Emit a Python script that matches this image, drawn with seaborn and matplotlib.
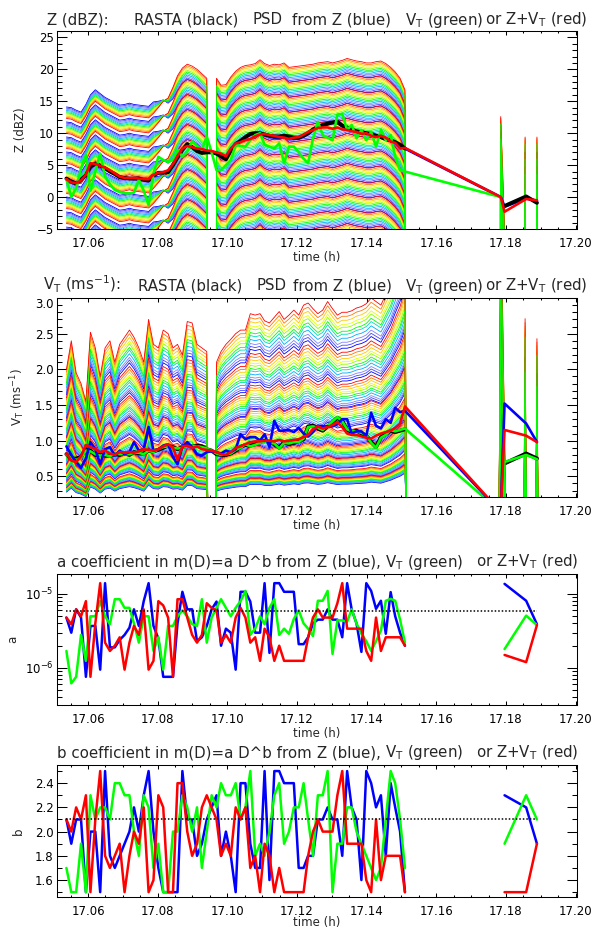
import numpy as np
import matplotlib
matplotlib.use("Agg")
import matplotlib.pyplot as plt
import seaborn as sns
from matplotlib.ticker import (MultipleLocator, FormatStrFormatter, LogLocator,
                               LogFormatterSciNotation, NullFormatter)

sns.set_style("ticks")
plt.rcParams["font.family"] = ["DejaVu Sans"]
plt.rcParams["mathtext.fontset"] = "dejavusans"

nan = np.nan
FILL_Z = -999.0   # missing retrieval (dBZ)
FILL_V = -9.0     # missing retrieval (m/s)

# ---------------------------------------------------------------- time axis (h)
time_main = [17.0538, 17.0552, 17.0566, 17.0580, 17.0594, 17.0607, 17.0621, 17.0635, 17.0649, 17.0663,
             17.0677, 17.0691, 17.0705, 17.0719, 17.0732, 17.0746, 17.0760, 17.0774, 17.0788, 17.0802,
             17.0816, 17.0830, 17.0844, 17.0857, 17.0871, 17.0885, 17.0899, 17.0913, 17.0927, 17.0941,
             17.0955, 17.0969, 17.0982, 17.0996, 17.1010, 17.1024, 17.1038, 17.1052, 17.1066, 17.1080,
             17.1094, 17.1107, 17.1121, 17.1135, 17.1149, 17.1163, 17.1177, 17.1191, 17.1205, 17.1219,
             17.1232, 17.1246, 17.1260, 17.1274, 17.1288, 17.1302, 17.1316, 17.1330, 17.1344, 17.1357,
             17.1371, 17.1385, 17.1399, 17.1413, 17.1427, 17.1441, 17.1455, 17.1469, 17.1482, 17.1496,
             17.1510]
time_tail = [17.1785, 17.1796, 17.1858, 17.1889]
time_coef_tail = [17.1796, 17.1858, 17.1889]

# ---------------------------------------------------------------- reflectivity (dBZ)
z_rasta = [2.9, 2.4, 2.1, 2.7, 3.4, 4.8, 5.2, 4.9, 4.5, 4.0,
           3.6, 3.1, 3.0, 2.9, 2.9, 2.9, 2.7, 2.6, 3.4, 3.8,
           3.8, 3.9, 5.0, 6.2, 7.4, 8.3, 7.8, 7.2, 6.9, 7.0,
           7.0, 6.8, 6.4, 5.9, 7.3, 8.3, 8.8, 9.4, 9.9, 10.0,
           10.0, 9.8, 9.6, 9.5, 9.5, 9.6, 9.5, 9.3, 9.3, 9.6,
           10.0, 10.6, 11.0, 11.3, 11.5, 11.7, 11.8, 11.2, 10.9, 10.6,
           10.3, 10.2, 10.0, 9.9, 9.6, 9.4, 9.1, 8.9, 8.6, 8.2, 7.6]
z_from_z = [2.9, 2.5, 2.2, 2.8, 3.4, 4.9, 5.3, 5.0, 4.5, 4.0,
            3.6, 3.2, 3.0, 2.9, 2.9, 2.8, 2.7, 2.6, 3.3, 3.8,
            3.8, 4.0, 5.1, 6.3, 7.5, 8.2, 7.9, 7.3, 7.0, 7.0,
            7.0, 6.9, 6.5, 6.0, 7.4, 8.3, 8.8, 9.3, 9.8, 10.0,
            9.9, 9.7, 9.5, 9.3, 9.3, 9.4, 9.3, 9.1, 9.2, 9.5,
            9.9, 10.5, 10.9, 11.2, 11.4, 11.6, 11.6, 11.1, 10.8, 10.5,
            10.2, 10.1, 9.9, 9.8, 9.5, 9.3, 9.0, 8.8, 8.5, 8.1, 7.6]
z_from_vt = [2.8, 0.0, 1.4, 4.5, 6.6, 1.0, 4.0, 6.8, 3.2, 2.0,
             1.1, 0.8, 0.6, 0.6, 0.7, 2.7, 1.0, -1.25, 3.7, 6.3,
             5.8, 5.5, 5.8, 7.4, 6.3, 7.1, 8.7, 8.0, 7.4, 9.5,
             7.0, 4.2, 4.2, 5.0, 5.8, 8.2, 8.0, 7.9, 8.9, 9.7,
             10.0, 8.2, 7.9, 7.6, 8.4, 5.3, 7.9, 7.9, 7.0, 6.0,
             5.3, 9.2, 11.8, 9.7, 9.3, 8.9, 12.9, 13.0, 10.5, 11.3,
             9.2, 10.5, 8.9, 10.2, 7.9, 10.5, 8.9, 9.7, 6.3, 4.2, 4.0]
z_from_both = [2.8, 2.3, 2.2, 2.6, 3.5, 5.3, 5.2, 4.9, 4.6, 4.2,
               3.7, 3.2, 3.0, 3.0, 3.0, 2.9, 2.8, 2.8, 3.5, 3.8,
               3.9, 4.2, 5.2, 6.4, 7.6, 8.0, 7.8, 7.6, 7.5, 7.3,
               7.2, 7.0, 6.8, 6.4, 7.6, 8.4, 8.6, 8.9, 9.1, 9.5,
               9.8, 9.9, 9.7, 9.6, 9.4, 9.3, 9.1, 9.3, 9.4, 9.8,
               10.2, 10.5, 10.8, 10.9, 10.9, 10.7, 10.9, 10.6, 10.5, 10.3,
               10.2, 9.9, 10.0, 9.6, 9.4, 9.6, 9.3, 8.7, 8.5, 7.6, 7.7]
z_rasta_tail = [nan, -1.4, 0.1, -0.9]
z_from_z_tail = [0.0, -1.5, -0.2, -0.6]
z_from_vt_tail = [0.0, FILL_Z, nan, nan]
z_from_both_tail = [0.0, -2.3, -0.3, -0.5]

# ---------------------------------------------------------------- terminal velocity (m/s)
vt_rasta = [0.81, 0.74, 0.75, 0.77, 0.88, 0.86, 0.80, 0.80, 0.79, 0.79,
            0.81, 0.80, 0.82, 0.80, 0.84, 0.82, 0.82, 0.86, 0.85, 0.87,
            0.90, 0.93, 0.91, 0.88, 0.91, 0.93, 0.92, 0.93, 0.92, 0.88,
            0.86, 0.81, 0.80, 0.80, 0.82, 0.86, 0.91, 0.94, 0.93, 0.95,
            0.98, 1.00, 0.98, 0.95, 0.90, 0.98, 0.95, 0.97, 0.99, 1.02,
            1.20, 1.21, 1.17, 1.14, 1.20, 1.26, 1.32, 1.28, 1.15, 1.12,
            1.14, 1.10, 1.07, 0.98, 0.91, 1.05, 1.09, 1.14, 1.12, 1.14, 1.16]
vt_from_z = [0.92, 0.80, 0.70, 0.62, 0.75, 0.98, 0.88, 0.67, 0.88, 0.91,
             0.79, 0.86, 0.81, 0.84, 0.98, 0.86, 0.88, 1.19, 0.86, 0.88,
             0.93, 0.95, 0.77, 0.67, 0.91, 0.98, 0.91, 0.81, 0.79, 0.84,
             0.85, 0.84, 0.82, 0.86, 0.84, 0.88, 1.09, 1.02, 1.05, 1.05,
             1.00, 1.09, 0.91, 1.28, 1.14, 1.14, 1.15, 1.12, 1.18, 1.10,
             1.06, 1.12, 1.21, 1.20, 1.20, 1.20, 1.23, 1.30, 1.30, 1.10,
             1.13, 1.13, 1.07, 1.39, 1.21, 1.17, 1.30, 1.25, 1.46, 1.40, 1.42]
vt_from_vt = [0.80, 0.76, 0.73, 0.76, 0.86, 0.85, 0.81, 0.79, 0.80, 0.78,
              0.82, 0.81, 0.81, 0.81, 0.83, 0.83, 0.81, 0.86, 0.84, 0.88,
              0.91, 0.92, 0.90, 0.89, 0.90, 0.92, 0.93, 0.92, 0.91, 0.89,
              0.86, 0.82, 0.80, 0.81, 0.82, 0.87, 0.90, 0.95, 0.92, 0.94,
              0.97, 0.99, 0.97, 0.96, 0.89, 0.97, 0.96, 0.98, 0.98, 1.03,
              1.19, 1.20, 1.18, 1.15, 1.21, 1.27, 1.33, 1.27, 1.16, 1.13,
              1.13, 1.11, 1.08, 0.97, 0.90, 1.04, 1.08, 1.15, 1.13, 1.15, 1.17]
vt_from_both = [0.82, 0.72, 0.70, 0.78, 0.94, 0.91, 0.88, 0.84, 0.86, 0.82,
                0.80, 0.84, 0.83, 0.84, 0.83, 0.85, 0.88, 0.87, 0.86, 0.88,
                0.92, 0.95, 0.90, 0.73, 0.92, 0.93, 0.90, 0.92, 0.88, 0.87,
                0.86, 0.84, 0.81, 0.80, 0.84, 0.90, 0.92, 0.95, 0.98, 0.99,
                0.99, 1.00, 1.00, 0.99, 1.01, 0.99, 1.00, 1.01, 1.02, 1.05,
                1.08, 1.16, 1.20, 1.17, 1.19, 1.22, 1.26, 1.19, 1.10, 1.08,
                1.08, 1.06, 1.04, 1.03, 1.07, 1.10, 1.12, 1.14, 1.18, 1.24, 1.48]
vt_rasta_tail = [nan, 0.68, 0.82, 0.75]
vt_from_z_tail = [0.0, 1.52, 1.24, 0.98]
vt_from_vt_tail = [0.0, 0.70, 0.80, 0.74]
vt_from_both_tail = [0.0, 1.15, 1.07, 0.98]

# ---------------------------------------------------------------- mass-size coefficients
a_from_z = [4.8e-6, 3.0e-6, 6.2e-6, 4.8e-6, 7.6e-7, 3.7e-6, 3.7e-6, 9.5e-7, 1.4e-5, 1.9e-6,
            1.9e-6, 2.4e-6, 2.8e-6, 3.5e-6, 6.2e-6, 3.7e-6, 8.0e-6, 1.4e-5, 3.7e-6, 2.5e-6,
            7.6e-7, 7.6e-7, 7.6e-7, 4.0e-6, 1.07e-5, 6.2e-6, 6.2e-6, 2.3e-6, 2.6e-6, 3.7e-6,
            6.2e-6, 7.9e-6, 2.0e-6, 3.4e-6, 3.0e-6, 9.5e-7, 1.07e-5, 1.07e-5, 7.9e-6, 3.0e-6,
            3.0e-6, 1.4e-5, 1.6e-6, 1.4e-5, 1.4e-5, 1.07e-5, 1.07e-5, 1.07e-5, 2.1e-6, 2.1e-6,
            2.6e-6, 4.0e-6, 4.5e-6, 4.5e-6, 6.2e-6, 4.5e-6, 4.5e-6, 2.6e-6, 1.4e-5, 6.2e-6,
            4.0e-6, 1.65e-6, 1.4e-5, 1.1e-5, 6.3e-6, 8.1e-6, 2.9e-6, 1.06e-5, 5.0e-6, 3.0e-6, 2.0e-6]
a_from_vt = [1.7e-6, 6.2e-7, 7.6e-7, 2.8e-6, 1.25e-6, 5.0e-6, 5.0e-6, 8.0e-6, 5.0e-6, 3.9e-6,
             8.5e-6, 8.5e-6, 6.5e-6, 6.5e-6, 4.0e-6, 2.2e-6, 5.0e-6, 5.0e-6, 1.7e-6, 2.6e-6,
             9.5e-7, 3.7e-6, 3.7e-6, 5.0e-6, 6.0e-6, 5.0e-6, 3.9e-6, 3.7e-6, 8.5e-6, 2.2e-6,
             4.8e-6, 6.5e-6, 8.5e-6, 6.5e-6, 5.0e-6, 6.5e-6, 8.0e-6, 1.1e-5, 2.8e-6, 3.4e-6,
             5.0e-6, 3.9e-6, 6.5e-6, 8.5e-6, 2.8e-6, 3.4e-6, 2.9e-6, 4.6e-6, 6.0e-6, 4.0e-6,
             3.4e-6, 2.7e-6, 8.1e-6, 8.1e-6, 1.1e-5, 1.55e-6, 4.4e-6, 4.4e-6, 4.2e-6, 6.2e-6,
             4.0e-6, 2.9e-6, 2.3e-6, 1.7e-6, 2.3e-6, 3.2e-6, 8.1e-6, 8.6e-6, 8.1e-6, 4.5e-6, 2.2e-6]
a_from_both = [4.8e-6, 3.9e-6, 6.2e-6, 5.0e-6, 8.0e-6, 7.6e-7, 4.0e-6, 1.4e-5, 2.2e-6, 1.7e-6,
               2.0e-6, 2.6e-6, 9.5e-7, 2.2e-6, 3.7e-6, 2.8e-6, 6.2e-6, 9.5e-7, 1.25e-6, 8.0e-6,
               7.0e-6, 4.8e-6, 7.6e-7, 8.5e-6, 8.5e-6, 4.8e-6, 2.8e-6, 2.2e-6, 2.8e-6, 7.5e-6,
               6.5e-6, 6.0e-6, 2.2e-6, 2.8e-6, 2.2e-6, 4.8e-6, 6.5e-6, 4.8e-6, 2.2e-6, 2.6e-6,
               1.25e-6, 3.4e-6, 2.6e-6, 1.25e-6, 2.0e-6, 1.25e-6, 1.25e-6, 1.25e-6, 1.25e-6, 1.25e-6,
               2.6e-6, 4.8e-6, 6.2e-6, 4.8e-6, 4.8e-6, 4.8e-6, 7.5e-6, 1.4e-5, 3.4e-6, 3.4e-6,
               3.4e-6, 3.4e-6, 1.7e-6, 1.25e-6, 4.8e-6, 1.7e-6, 2.6e-6, 2.6e-6, 2.6e-6, 2.6e-6, 2.0e-6]
a_from_z_tail = [1.37e-5, 8.1e-6, 3.9e-6]
a_from_vt_tail = [1.8e-6, 5.1e-6, 3.8e-6]
a_from_both_tail = [1.5e-6, 1.2e-6, 3.8e-6]

b_from_z = [2.1, 1.9, 2.1, 2.1, 1.5, 2.0, 2.0, 1.5, 2.5, 1.8,
            1.7, 1.8, 1.9, 2.0, 2.2, 2.0, 2.3, 2.5, 2.0, 1.7,
            1.5, 1.5, 1.5, 1.5, 2.5, 2.1, 2.1, 1.8, 1.9, 2.1,
            2.2, 2.3, 1.8, 2.0, 1.8, 1.5, 2.4, 2.4, 1.9, 1.7,
            1.7, 2.5, 1.6, 2.5, 2.5, 2.4, 2.4, 2.4, 1.7, 1.7,
            1.8, 1.8, 2.1, 2.1, 2.2, 2.1, 2.1, 1.8, 2.5, 2.2,
            2.1, 1.6, 2.5, 2.4, 2.2, 2.3, 1.8, 2.4, 2.2, 2.0, 1.5]
b_from_vt = [1.7, 1.5, 1.5, 1.9, 1.5, 2.3, 2.1, 2.2, 2.2, 2.1,
             2.4, 2.4, 2.3, 2.3, 2.0, 1.8, 2.3, 2.2, 1.7, 1.9,
             1.5, 1.5, 2.0, 2.0, 2.3, 2.2, 2.0, 2.2, 1.7, 2.0,
             2.3, 2.2, 2.4, 2.3, 2.3, 2.4, 2.1, 2.2, 2.5, 1.8,
             1.9, 1.8, 2.0, 2.3, 2.4, 1.9, 2.0, 2.2, 2.2, 2.4,
             2.1, 1.8, 2.3, 2.3, 2.5, 1.5, 1.9, 1.9, 2.2, 2.2,
             2.0, 1.9, 1.8, 1.7, 1.6, 1.7, 2.1, 2.5, 2.4, 2.1, 1.7]
b_from_both = [2.1, 2.0, 2.2, 2.1, 2.3, 1.5, 2.1, 2.5, 1.8, 1.7,
               1.8, 1.9, 1.5, 1.8, 2.0, 1.9, 2.2, 1.5, 1.6, 2.3,
               2.2, 1.5, 1.5, 2.4, 2.4, 2.0, 1.8, 1.9, 2.2, 2.3,
               2.2, 2.1, 1.8, 1.9, 1.8, 2.2, 2.1, 2.2, 1.7, 1.8,
               1.5, 1.9, 1.8, 1.5, 1.7, 1.5, 1.5, 1.5, 1.5, 1.5,
               1.8, 2.0, 2.1, 2.0, 2.0, 2.0, 2.3, 2.5, 1.9, 1.9,
               1.9, 1.9, 1.6, 1.5, 2.1, 1.6, 1.8, 1.8, 1.8, 1.8, 1.5]
b_from_z_tail = [2.3, 2.2, 1.9]
b_from_vt_tail = [1.9, 2.3, 2.1]
b_from_both_tail = [1.5, 1.5, 1.9]

a_reference = 5.8e-6
b_reference = 2.1

# ---------------------------------------------------------------- PSD ensemble (grid of a and b)
ens_time_tail = [17.1524, 17.1771, 17.1785, 17.1799, 17.1841, 17.1855, 17.1869, 17.1875, 17.1889, 17.1903]
z_ens_top = [14.1, 14.0, 13.6, 13.3, 14.5, 16.0, 16.8, 16.2, 15.6, 15.2,
             14.8, 14.4, 14.5, 14.7, 14.5, 14.4, 14.3, 14.2, 14.9, 15.0,
             15.2, 15.5, 17.2, 19.0, 20.2, 20.8, 20.5, 20.0, 19.3, 18.6,
             FILL_Z, 18.6, 17.5, 17.6, 18.8, 19.7, 20.3, 20.6, 20.7, 20.9,
             21.5, 20.9, 20.6, 20.8, 20.7, 21.0, 20.3, 20.4, 20.5, 20.6,
             20.7, 20.8, 21.0, 21.1, 21.2, 21.0, 21.2, 21.4, 21.7, 21.5,
             21.3, 21.2, 21.0, 21.0, 21.2, 21.3, 20.9, 20.3, 19.6, 18.6, 16.8]
z_ens_top_tail = [FILL_Z, FILL_Z, 12.6, -10.0, FILL_Z, 9.4, FILL_Z, FILL_Z, 9.4, FILL_Z]
z_ens_spread = [-1.8, -1.8, -1.8, -1.8, -1.8, -1.8, -1.8, -1.8, -1.8, -1.8,
                -1.8, -1.8, -1.8, -1.8, -1.8, -1.8, -1.8, -1.8, -1.8, -1.0,
                -0.2, 0.8, 1.8, 2.4, 2.4, 2.4, 2.4, 2.4, 2.4, 2.4,
                0.0, 2.3, 2.3, 2.3, 2.3, 2.3, 2.3, 2.3, 2.3, 2.3,
                2.3, 2.3, 2.3, 2.3, 2.3, 2.3, 2.3, 2.3, 2.3, 2.3,
                2.3, 2.3, 2.3, 2.3, 2.3, 2.3, 2.3, 2.3, 2.3, 2.3,
                2.3, 2.3, 2.3, 2.3, 2.3, 2.3, 2.3, 2.3, 2.3, 2.3, 2.3]
z_ens_spread_tail = [0.0, 0.0, 2.3, 2.3, 0.0, 2.3, 0.0, 0.0, 2.3, 0.0]
z_group_offset = [0.0, -2.35, -4.7, -7.05, -9.4, -11.75, -14.1, -16.45, -18.8, -21.15, -23.5, -25.85, -28.2]

vt_ens_top = [2.0, 2.4, 1.95, 1.8, 1.55, 2.52, 2.3, 1.9, 2.3, 2.4,
              2.1, 2.35, 2.45, 2.55, 2.45, 2.3, 2.1, 2.7, 2.35, 2.3,
              2.55, 2.5, 2.3, 2.35, 2.2, 2.67, 2.65, 2.35, 2.3, 2.25,
              FILL_V, 2.1, 2.25, 2.35, 2.42, 2.5, 2.55, 2.55, 2.78, 2.76,
              2.78, 2.68, 2.65, 2.73, 2.81, 2.7, 2.76, 2.83, 2.76, 2.9,
              2.93, 2.85, 2.78, 2.83, 2.95, 2.85, 2.76, 2.8, 2.8, 2.82,
              2.86, 2.88, 2.92, 3.0, 2.95, 2.9, 3.05, 3.2, 3.4, 3.6, 3.9]
vt_ens_top_tail = [FILL_V, FILL_V, 4.5, 0.1, FILL_V, 2.71, FILL_V, FILL_V, 2.43, FILL_V]
vt_group_factor = [1.0, 0.80, 0.64, 0.52, 0.41, 0.33, 0.27, 0.21, 0.17]
vt_b_factor = [0.82, 0.835, 0.85, 0.87, 0.89, 0.905, 0.925, 0.94, 0.96, 0.98, 1.0]

b_grid = [1.5, 1.6, 1.7, 1.8, 1.9, 2.0, 2.1, 2.2, 2.3, 2.4, 2.5]
ens_colors = ['#0000ff', '#4646ff', '#8282ff', '#00aaff', '#00dcb4', '#00ff00',
              '#8cff00', '#e6ff00', '#ffc800', '#ff7800', '#ff0000']
draw_order = [0, 1, 2, 3, 4, 6, 7, 8, 9, 10, 5]

# ---------------------------------------------------------------- layout helpers
W, H = 592, 932
fig = plt.figure(figsize=(W / 100, H / 100), dpi=100)
fig.patch.set_facecolor("white")


def panel(left, top, right, bottom):
    return fig.add_axes([left / W, 1 - bottom / H, (right - left) / W, (bottom - top) / H])


def draw_series(ax, t, y, color, lw):
    t = np.asarray(t, float)
    y = np.asarray(y, float)
    idx = np.flatnonzero(~np.isnan(y))
    for run in np.split(idx, np.flatnonzero(np.diff(idx) > 1) + 1):
        if len(run) < 2:
            continue
        sns.lineplot(x=t[run], y=y[run], color=color, linewidth=lw, ax=ax,
                     estimator=None, sort=False, legend=False)


def style_axis(ax, xlabel_y):
    ax.set_facecolor("white")
    ax.set_xlim(17.0511, 17.2004)
    ax.xaxis.set_major_locator(MultipleLocator(0.02))
    ax.xaxis.set_minor_locator(MultipleLocator(0.005))
    ax.xaxis.set_major_formatter(FormatStrFormatter("%.2f"))
    ax.tick_params(which="both", direction="in", top=True, right=True,
                   labelsize=8.5, width=0.75, colors="black")
    ax.tick_params(axis="x", which="major", length=3.0, pad=5.5)
    ax.tick_params(axis="x", which="minor", length=1.6)
    ax.tick_params(axis="y", which="major", length=7.0, pad=2.5)
    ax.tick_params(axis="y", which="minor", length=3.5)
    for s in ax.spines.values():
        s.set_linewidth(0.75)
        s.set_color("black")
    ax.set_xlabel("time (h)", fontsize=8.5)
    ax.xaxis.set_label_coords(0.5, xlabel_y)


def title(pieces, baseline):
    for x, s in pieces:
        fig.text(x / W, 1 - baseline / H, s, fontsize=10.8, ha="left", va="baseline")


VT = r"V$_\mathregular{T}$"
t_ens = np.array(time_main + ens_time_tail)
frac = (np.array(b_grid) - b_grid[0]) / (b_grid[-1] - b_grid[0])

# ================================================================ panel 1 : Z
ax1 = panel(57, 31, 577, 229)
z_top = np.array(z_ens_top + z_ens_top_tail)
z_spread = np.array(z_ens_spread + z_ens_spread_tail)
z_low = z_top - np.maximum(z_spread, 0.0)
for j in draw_order:
    for off in z_group_offset:
        ax1.plot(t_ens, z_low + frac[j] * z_spread + off, color=ens_colors[j], lw=0.6)

t_thick = time_main + time_tail
draw_series(ax1, t_thick, z_from_z + z_from_z_tail, "#0000ff", 2.0)
draw_series(ax1, t_thick, z_rasta + z_rasta_tail, "black", 2.8)
draw_series(ax1, t_thick, z_from_vt + z_from_vt_tail, "#00ff00", 1.9)
draw_series(ax1, t_thick, z_from_both + z_from_both_tail, "#ff0000", 1.9)

ax1.set_ylim(-5, 26)
ax1.yaxis.set_major_locator(MultipleLocator(5))
ax1.yaxis.set_minor_locator(MultipleLocator(1))
ax1.set_ylabel("Z (dBZ)", fontsize=8.5)
ax1.yaxis.set_label_coords(-0.058, 0.5)
style_axis(ax1, -0.111)
title([(47, "Z (dBZ):"), (134, "RASTA (black)"), (253, "PSD"), (292, "from Z (blue)"),
       (405, VT + " (green)"), (485, "or Z+" + VT + " (red)")], 24.5)

# ================================================================ panel 2 : V_T
ax2 = panel(57, 298, 577, 497)
v_top = np.array(vt_ens_top + vt_ens_top_tail)
for j in draw_order:
    for gf in vt_group_factor:
        ax2.plot(t_ens, v_top * gf * vt_b_factor[j], color=ens_colors[j], lw=0.6)

draw_series(ax2, t_thick, vt_rasta + vt_rasta_tail, "black", 2.8)
draw_series(ax2, t_thick, vt_from_vt + vt_from_vt_tail, "#00ff00", 1.9)
draw_series(ax2, t_thick, vt_from_z + vt_from_z_tail, "#0000ff", 1.9)
draw_series(ax2, t_thick, vt_from_both + vt_from_both_tail, "#ff0000", 1.9)

ax2.set_ylim(0.21, 3.0)
ax2.yaxis.set_major_locator(MultipleLocator(0.5))
ax2.yaxis.set_minor_locator(MultipleLocator(0.1))
ax2.yaxis.set_major_formatter(FormatStrFormatter("%.1f"))
ax2.set_ylabel(VT + r" (ms$^\mathregular{-1}$)", fontsize=8.5)
ax2.yaxis.set_label_coords(-0.058, 0.5)
style_axis(ax2, -0.1106)
title([(43, VT + r" (ms$^\mathregular{-1}$):"), (138, "RASTA (black)"), (257, "PSD"),
       (293, "from Z (blue)"), (405, VT + " (green)"), (485, "or Z+" + VT + " (red)")], 290.5)

# ================================================================ panel 3 : a
t_coef = time_main + [nan] + time_coef_tail
ax3 = panel(57, 574, 577, 705)
ax3.set_yscale("log")
draw_series(ax3, t_coef, a_from_z + [nan] + a_from_z_tail, "#0000ff", 1.8)
draw_series(ax3, t_coef, a_from_vt + [nan] + a_from_vt_tail, "#00ff00", 1.8)
draw_series(ax3, t_coef, a_from_both + [nan] + a_from_both_tail, "#ff0000", 1.8)
ax3.plot([time_main[0], time_coef_tail[-1]], [a_reference, a_reference],
         color="black", lw=1.1, linestyle=(0, (1, 1.3)))
ax3.set_ylim(10 ** -6.5, 10 ** -4.73)
ax3.yaxis.set_major_locator(LogLocator(base=10))
ax3.yaxis.set_minor_locator(LogLocator(base=10, subs=np.arange(2, 10)))
ax3.yaxis.set_major_formatter(LogFormatterSciNotation())
ax3.yaxis.set_minor_formatter(NullFormatter())
ax3.set_ylabel("a", fontsize=8.5)
ax3.yaxis.set_label_coords(-0.0725, 0.5)
style_axis(ax3, -0.168)
title([(57, "a coefficient in m(D)=a D^b from"), (317, "Z (blue),"),
       (385, VT + " (green)"), (476, "or Z+" + VT + " (red)")], 566.7)

# ================================================================ panel 4 : b
ax4 = panel(57, 765, 577, 897)
draw_series(ax4, t_coef, b_from_z + [nan] + b_from_z_tail, "#0000ff", 1.8)
draw_series(ax4, t_coef, b_from_vt + [nan] + b_from_vt_tail, "#00ff00", 1.8)
draw_series(ax4, t_coef, b_from_both + [nan] + b_from_both_tail, "#ff0000", 1.8)
ax4.plot([time_main[0], time_coef_tail[-1]], [b_reference, b_reference],
         color="black", lw=1.1, linestyle=(0, (1, 1.3)))
ax4.set_ylim(1.46, 2.55)
ax4.yaxis.set_major_locator(MultipleLocator(0.2))
ax4.yaxis.set_minor_locator(MultipleLocator(0.1))
ax4.yaxis.set_major_formatter(FormatStrFormatter("%.1f"))
ax4.set_ylabel("b", fontsize=8.5)
ax4.yaxis.set_label_coords(-0.061, 0.5)
style_axis(ax4, -0.144)
title([(57, "b coefficient in m(D)=a D^b from"), (317, "Z (blue),"),
       (385, VT + " (green)"), (476, "or Z+" + VT + " (red)")], 757.3)

# keep the top-edge label of the velocity axis inside the frame
fig.canvas.draw()
for tick in ax2.yaxis.get_major_ticks():
    if tick.label1.get_text() == "3.0":
        tick.label1.set_verticalalignment("top")

fig.savefig("out.png", dpi=100, facecolor="white")
